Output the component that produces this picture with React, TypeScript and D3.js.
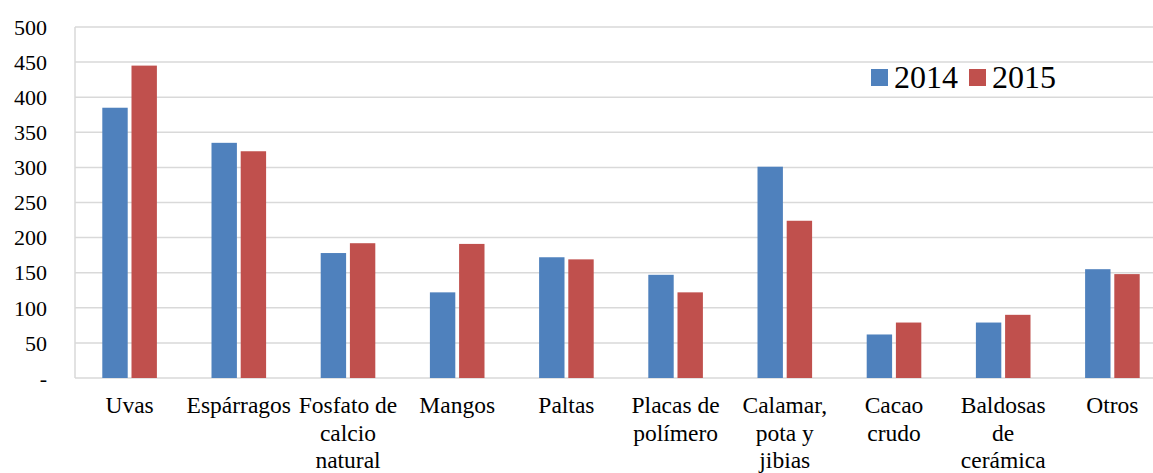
import React from "react";
import * as d3 from "d3";

const categories: string[][] = [
  ["Uvas"],
  ["Espárragos"],
  ["Fosfato de", "calcio", "natural"],
  ["Mangos"],
  ["Paltas"],
  ["Placas de", "polímero"],
  ["Calamar,", "pota y", "jibias"],
  ["Cacao", "crudo"],
  ["Baldosas", "de", "cerámica"],
  ["Otros"],
];
const series2014: number[] = [385, 335, 178, 122, 172, 147, 301, 62, 79, 155];
const series2015: number[] = [445, 323, 192, 191, 169, 122, 224, 79, 90, 148];
const seriesNames: string[] = ["2014", "2015"];
const seriesColors: string[] = ["#4f81bd", "#c0504d"];
const yTicks: number[] = [0, 50, 100, 150, 200, 250, 300, 350, 400, 450, 500];

export default function App() {
  const W = 1153;
  const H = 473;
  const left = 75;
  const right = 1167;
  const top = 27;
  const bottom = 378;
  const font = "Liberation Serif, Times New Roman, serif";

  const y = d3.scaleLinear().domain([0, 500]).range([bottom, top]);
  const x0 = d3
    .scaleBand<number>()
    .domain(d3.range(categories.length))
    .range([left, right])
    .paddingInner(0.5)
    .paddingOuter(0.25);
  const x1 = d3
    .scaleBand<number>()
    .domain([0, 1])
    .range([0, x0.bandwidth()])
    .paddingInner(0.13);

  const data = [series2014, series2015];
  const ts = { fontFamily: font };

  return (
    <svg
      width={W}
      height={H}
      style={{ position: "absolute", left: 0, top: 0, background: "#fff", fontFamily: font }}
    >
      {yTicks.map((t) => (
        <g key={t}>
          <line
            x1={left}
            x2={right}
            y1={y(t)}
            y2={y(t)}
            stroke="#d9d9d9"
            strokeWidth={1.5}
          />
          <text
            x={47}
            y={y(t)}
            dy="0.35em"
            textAnchor="end"
            fontSize={22}
            fill="#000"
            style={ts}
          >
            {t === 0 ? "-" : String(t)}
          </text>
        </g>
      ))}
      <line x1={left} x2={left} y1={top} y2={bottom} stroke="#d9d9d9" strokeWidth={1.5} />
      {categories.map((c, i) => (
        <g key={i}>
          {data.map((s, j) => (
            <rect
              key={j}
              x={(x0(i) as number) + (x1(j) as number)}
              y={y(s[i])}
              width={x1.bandwidth()}
              height={bottom - y(s[i])}
              fill={seriesColors[j]}
            />
          ))}
          <text
            x={(x0(i) as number) + x0.bandwidth() / 2}
            textAnchor="middle"
            fontSize={23.5}
            fill="#000"
            style={ts}
          >
            {c.map((line, k) => (
              <tspan key={k} x={(x0(i) as number) + x0.bandwidth() / 2} y={413 + k * 27.5}>
                {line}
              </tspan>
            ))}
          </text>
        </g>
      ))}
      <g>
        <rect x={871} y={69} width={17} height={17} fill={seriesColors[0]} />
        <text x={894} y={88} fontSize={32} fill="#000" style={ts}>
          {seriesNames[0]}
        </text>
        <rect x={969} y={69} width={17} height={17} fill={seriesColors[1]} />
        <text x={992} y={88} fontSize={32} fill="#000" style={ts}>
          {seriesNames[1]}
        </text>
      </g>
    </svg>
  );
}
